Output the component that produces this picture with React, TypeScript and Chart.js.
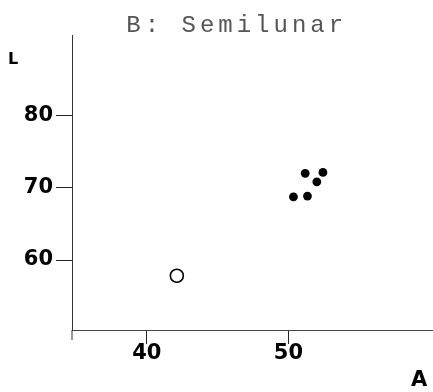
import React, { useEffect, useRef } from "react";
import { Chart, registerables } from "chart.js";

Chart.register(...registerables);

const titleText = "B: Semilunar";
const xAxisLabel = "A";
const yAxisLabel = "L";
const xTicks = [40, 50];
const yTicks = [60, 70, 80];
const filledX = [50.35, 51.34, 51.18, 52.0, 52.43];
const filledY = [68.77, 68.87, 72.02, 70.85, 72.15];
const openX = [42.12];
const openY = [57.82];

const tickFont = { family: "DejaVu Sans", size: 21, weight: "bold" as const };

const textPlugin = {
  id: "texts",
  afterDraw(chart: any) {
    const ctx = chart.ctx;
    const area = chart.chartArea;
    ctx.save();
    ctx.strokeStyle = "#333";
    ctx.lineWidth = 1;
    ctx.beginPath();
    ctx.moveTo(area.left, area.bottom);
    ctx.lineTo(area.left, area.bottom + 10);
    ctx.stroke();
    ctx.fillStyle = "#555";
    ctx.font = "24px 'Liberation Mono'";
    ctx.textAlign = "center";
    ctx.textBaseline = "alphabetic";
    const chars = titleText.split("");
    chars.forEach((c, i) => {
      ctx.fillText(c, 133.5 + i * 18.4, 32);
    });
    ctx.fillStyle = "#000";
    ctx.textAlign = "left";
    ctx.font = "bold 16px 'DejaVu Sans'";
    ctx.fillText(yAxisLabel, 8, 64);
    ctx.font = "bold 21px 'DejaVu Sans'";
    ctx.fillText(xAxisLabel, 411, 386);
    ctx.restore();
  },
};

export default function App() {
  const ref = useRef<HTMLCanvasElement | null>(null);
  useEffect(() => {
    if (!ref.current) return;
    const chart = new Chart(ref.current, {
      type: "scatter",
      data: {
        datasets: [
          {
            data: filledX.map((x, i) => ({ x, y: filledY[i] })),
            backgroundColor: "#000",
            borderColor: "#000",
            pointRadius: 4.4,
            borderWidth: 0,
          },
          {
            data: openX.map((x, i) => ({ x, y: openY[i] })),
            backgroundColor: "#fff",
            borderColor: "#000",
            pointRadius: 6.5,
            borderWidth: 1.6,
          },
        ],
      },
      options: {
        animation: false,
        responsive: true,
        maintainAspectRatio: false,
        layout: { autoPadding: false, padding: { top: 35, right: 0, left: 0, bottom: 0 } },
        plugins: { legend: { display: false }, tooltip: { enabled: false }, title: { display: false } },
        scales: {
          x: {
            type: "linear",
            min: 34.72,
            max: 60.2,
            afterBuildTicks: (s: any) => {
              s.ticks = xTicks.map((v) => ({ value: v }));
            },
            afterFit: (s: any) => {
              s.height = 62;
              s.paddingLeft = 0;
              s.paddingRight = 0;
            },
            grid: { drawOnChartArea: false, drawTicks: true, tickLength: 14, color: "#222", lineWidth: 1 },
            border: { display: true, color: "#444", width: 1 },
            ticks: { font: tickFont, color: "#000", padding: -3, maxRotation: 0, autoSkip: false },
          },
          y: {
            type: "linear",
            min: 50.3,
            max: 91.2,
            afterBuildTicks: (s: any) => {
              s.ticks = yTicks.map((v) => ({ value: v }));
            },
            afterFit: (s: any) => {
              s.width = 72;
              s.paddingTop = 0;
              s.paddingBottom = 0;
            },
            grid: { drawOnChartArea: false, drawTicks: true, tickLength: 16, color: "#222", lineWidth: 1 },
            border: { display: true, color: "#333", width: 1 },
            ticks: { font: tickFont, color: "#000", padding: 3, autoSkip: false },
          },
        },
      },
      plugins: [textPlugin],
    });
    return () => chart.destroy();
  }, []);
  return (
    <div style={{ position: "fixed", left: 0, top: 0, width: 433, height: 392, background: "#fff" }}>
      <canvas ref={ref} />
    </div>
  );
}
